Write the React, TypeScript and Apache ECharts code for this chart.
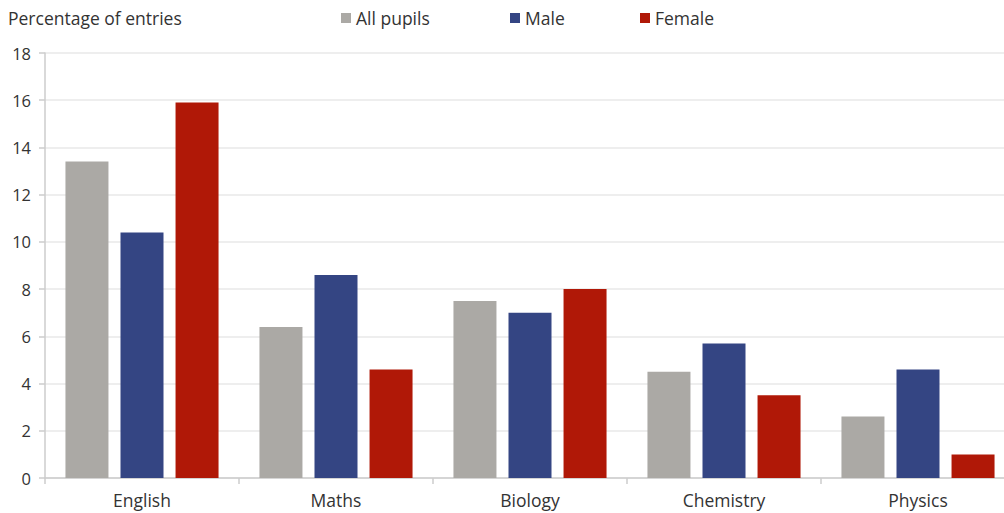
import React, { useEffect, useRef } from "react";
import * as echarts from "echarts";

const subjects = ["English", "Maths", "Biology", "Chemistry", "Physics"];
const allPupils = [13.4, 6.4, 7.5, 4.5, 2.6];
const male = [10.4, 8.6, 7.0, 5.7, 4.6];
const female = [15.9, 4.6, 8.0, 3.5, 1.0];
const yTicks = { min: 0, max: 18, interval: 2 };

const seriesNames = ["All pupils", "Male", "Female"];
const seriesColors = ["#aba9a5", "#344583", "#b01807"];
const legendLeft = [341, 510, 640];

const FONT = "'Open Sans', sans-serif";
const TEXT = "#333333";
const LABEL_SIZE = 17.5;

export default function App() {
  const ref = useRef<HTMLDivElement>(null);

  useEffect(() => {
    if (!ref.current) return;
    const chart = echarts.init(ref.current, null, { renderer: "svg" });
    const values = [allPupils, male, female];
    chart.setOption({
      animation: false,
      textStyle: { fontFamily: FONT, color: TEXT },
      title: {
        text: "Percentage of entries",
        left: 3,
        top: 4,
        textStyle: { fontFamily: FONT, fontSize: LABEL_SIZE, fontWeight: "normal", color: TEXT },
      },
      // one legend per series so each entry sits at its own spot
      legend: seriesNames.map((name, i) => ({
        left: legendLeft[i],
        top: 9,
        padding: 0,
        itemWidth: 10,
        itemHeight: 10,
        icon: "rect",
        textStyle: { fontFamily: FONT, fontSize: LABEL_SIZE, color: TEXT },
        data: [name],
      })),
      // plot runs past the right edge of the window, so the last category is clipped
      grid: { left: 45, right: 0, top: 53, bottom: 35, containLabel: false },
      xAxis: {
        type: "category",
        data: subjects,
        axisLine: { lineStyle: { color: "#cccccc", width: 1.5 } },
        axisTick: { show: true, length: 6, lineStyle: { color: "#cccccc", width: 1.5 } },
        axisLabel: { fontFamily: FONT, fontSize: LABEL_SIZE, color: TEXT, margin: 13 },
      },
      yAxis: {
        type: "value",
        min: yTicks.min,
        max: yTicks.max,
        interval: yTicks.interval,
        axisLine: { show: true, lineStyle: { color: "#cccccc", width: 1.5 } },
        axisTick: { show: true, length: 6, lineStyle: { color: "#cccccc", width: 1.5 } },
        axisLabel: { fontFamily: FONT, fontSize: 16.5, color: TEXT, margin: 14 },
        splitLine: { lineStyle: { color: "#e9e9e9", width: 1.5 } },
      },
      series: seriesNames.map((name, i) => ({
        name,
        type: "bar",
        data: values[i],
        barWidth: 43,
        barGap: "28%",
        itemStyle: { color: seriesColors[i] },
      })),
    });
    return () => chart.dispose();
  }, []);

  return (
    <div
      ref={ref}
      style={{ position: "fixed", left: 0, top: 0, width: 1015, height: 513, background: "#ffffff" }}
    />
  );
}
